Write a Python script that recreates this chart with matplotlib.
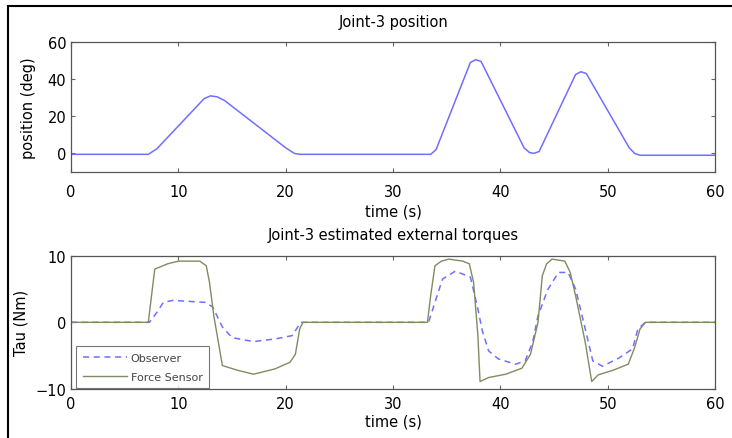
import matplotlib.pyplot as plt
from matplotlib.patches import Rectangle

plt.rcParams['font.family'] = ['DejaVu Sans']

# joint-3 position (deg)
t_pos = [0, 7.2, 8.0, 12.4, 13.0, 13.6, 14.3, 20.0, 20.8, 21.3, 33.5, 34.0,
         37.2, 37.7, 38.2, 42.2, 42.7, 43.1, 43.6, 47.0, 47.5, 48.0, 52.0, 52.5, 53.0, 60]
pos = [-0.5, -0.5, 2.5, 29.5, 31.0, 30.5, 28.5, 3.0, 0.0, -0.5, -0.5, 2.0,
       49.0, 50.5, 49.5, 3.0, 0.5, 0.0, 1.0, 42.5, 44.0, 43.0, 3.0, 0.0, -1.0, -1.0]

# external torques (Nm), force sensor
t_fs = [0, 7.2, 7.5, 7.8, 9.0, 10.0, 12.0, 12.6, 12.9, 13.3, 14.1, 15.5, 17.0, 19.0,
        20.4, 20.9, 21.3, 21.6, 33.2, 33.5, 33.9, 34.5, 35.2, 36.5, 37.1, 37.5,
        37.9, 38.1, 38.9, 40.5, 42.0, 42.8, 43.5, 43.9, 44.3, 44.8, 46.0, 46.5,
        47.0, 47.9, 48.5, 49.1, 50.5, 51.9, 52.5, 53.0, 53.5, 60]
fs = [0, 0, 4.0, 8.0, 8.8, 9.2, 9.2, 8.5, 6.0, 1.0, -6.5, -7.2, -7.8, -7.0,
      -6.0, -4.8, -1.0, 0, 0, 4.0, 8.5, 9.2, 9.5, 9.2, 8.8, 6.0,
      -2.0, -8.9, -8.3, -7.8, -6.9, -4.8, 0, 7.0, 8.8, 9.5, 9.2, 7.5,
      4.0, -3.0, -8.9, -7.9, -7.2, -6.3, -3.8, -1.0, 0, 0]

# external torques (Nm), observer estimate
t_obs = [0, 7.3, 8.0, 8.6, 9.5, 10.5, 12.5, 13.2, 14.1, 15.0, 17.0, 19.0, 20.6,
         21.0, 21.4, 33.3, 33.8, 34.6, 35.8, 37.2, 37.9, 38.3, 38.9, 39.8, 41.4,
         42.3, 43.0, 43.5, 44.4, 45.4, 46.3, 47.0, 47.9, 48.6, 49.5, 51.0, 52.3,
         52.8, 53.5, 60]
obs = [0, 0, 1.5, 3.0, 3.3, 3.2, 3.0, 2.3, -0.7, -2.3, -2.9, -2.5, -2.0,
       -1.0, 0, 0, 2.5, 6.5, 7.7, 6.8, 2.0, -1.2, -4.3, -5.5, -6.3,
       -5.8, -3.0, 1.0, 4.9, 7.5, 7.5, 5.0, -1.0, -5.8, -6.6, -5.4, -4.0,
       -1.0, 0, 0]

xticks = [0, 10, 20, 30, 40, 50, 60]

fig = plt.figure(figsize=(7.32, 4.39), dpi=100)
fig.patches.append(Rectangle((8 / 732, -0.01), 1.0, 1 - 7 / 439 + 0.01,
                             transform=fig.transFigure, fill=False,
                             edgecolor='black', linewidth=1.5))

ax1 = fig.add_axes([0.097, 0.606, 0.880, 0.296])
ax2 = fig.add_axes([0.097, 0.112, 0.880, 0.303])

ax1.plot(t_pos, pos, color='#6f6fff', linewidth=1.1)
ax1.set_xlim(0, 60)
ax1.set_ylim(-10, 60)
ax1.set_yticks([0, 20, 40, 60])
ax1.set_title('Joint-3 position', fontsize=10.5, pad=11.5)
ax1.set_ylabel('position (deg)', fontsize=10.5, labelpad=8)
ax1.set_xlabel('time (s)', fontsize=10.5, labelpad=3)

ax2.plot(t_obs, obs, color='#6f6fff', linewidth=1.1, linestyle=(0, (4, 3)),
         label='Observer')
ax2.plot(t_fs, fs, color='#7f8c62', linewidth=1.0, label='Force Sensor')
ax2.set_xlim(0, 60)
ax2.set_ylim(-10, 10)
ax2.set_yticks([-10, 0, 10])
ax2.set_title('Joint-3 estimated external torques', fontsize=10.5, pad=12)
ax2.set_ylabel('Tau (Nm)', fontsize=10.5, labelpad=5)
ax2.set_xlabel('time (s)', fontsize=10.5, labelpad=2)
leg = ax2.legend(loc='lower left', bbox_to_anchor=(0.008, 0.004), fontsize=8,
                 frameon=True, fancybox=False, borderaxespad=0,
                 borderpad=0.6, handlelength=4.0, handletextpad=0.3,
                 labelspacing=0.8)
leg.get_frame().set_edgecolor('#555555')
leg.get_frame().set_linewidth(0.8)
for txt in leg.get_texts():
    txt.set_color('#444444')

for ax, xpad in ((ax1, 9), (ax2, 5)):
    ax.set_xticks(xticks)
    ax.tick_params(direction='in', top=True, right=True, labelsize=10.5,
                   length=3, color='#666666')
    ax.tick_params(axis='x', pad=xpad)
    ax.tick_params(axis='y', pad=3.5)
    for s in ax.spines.values():
        s.set_color('#555555')
        s.set_linewidth(0.9)

fig.savefig('out.png', dpi=100)
